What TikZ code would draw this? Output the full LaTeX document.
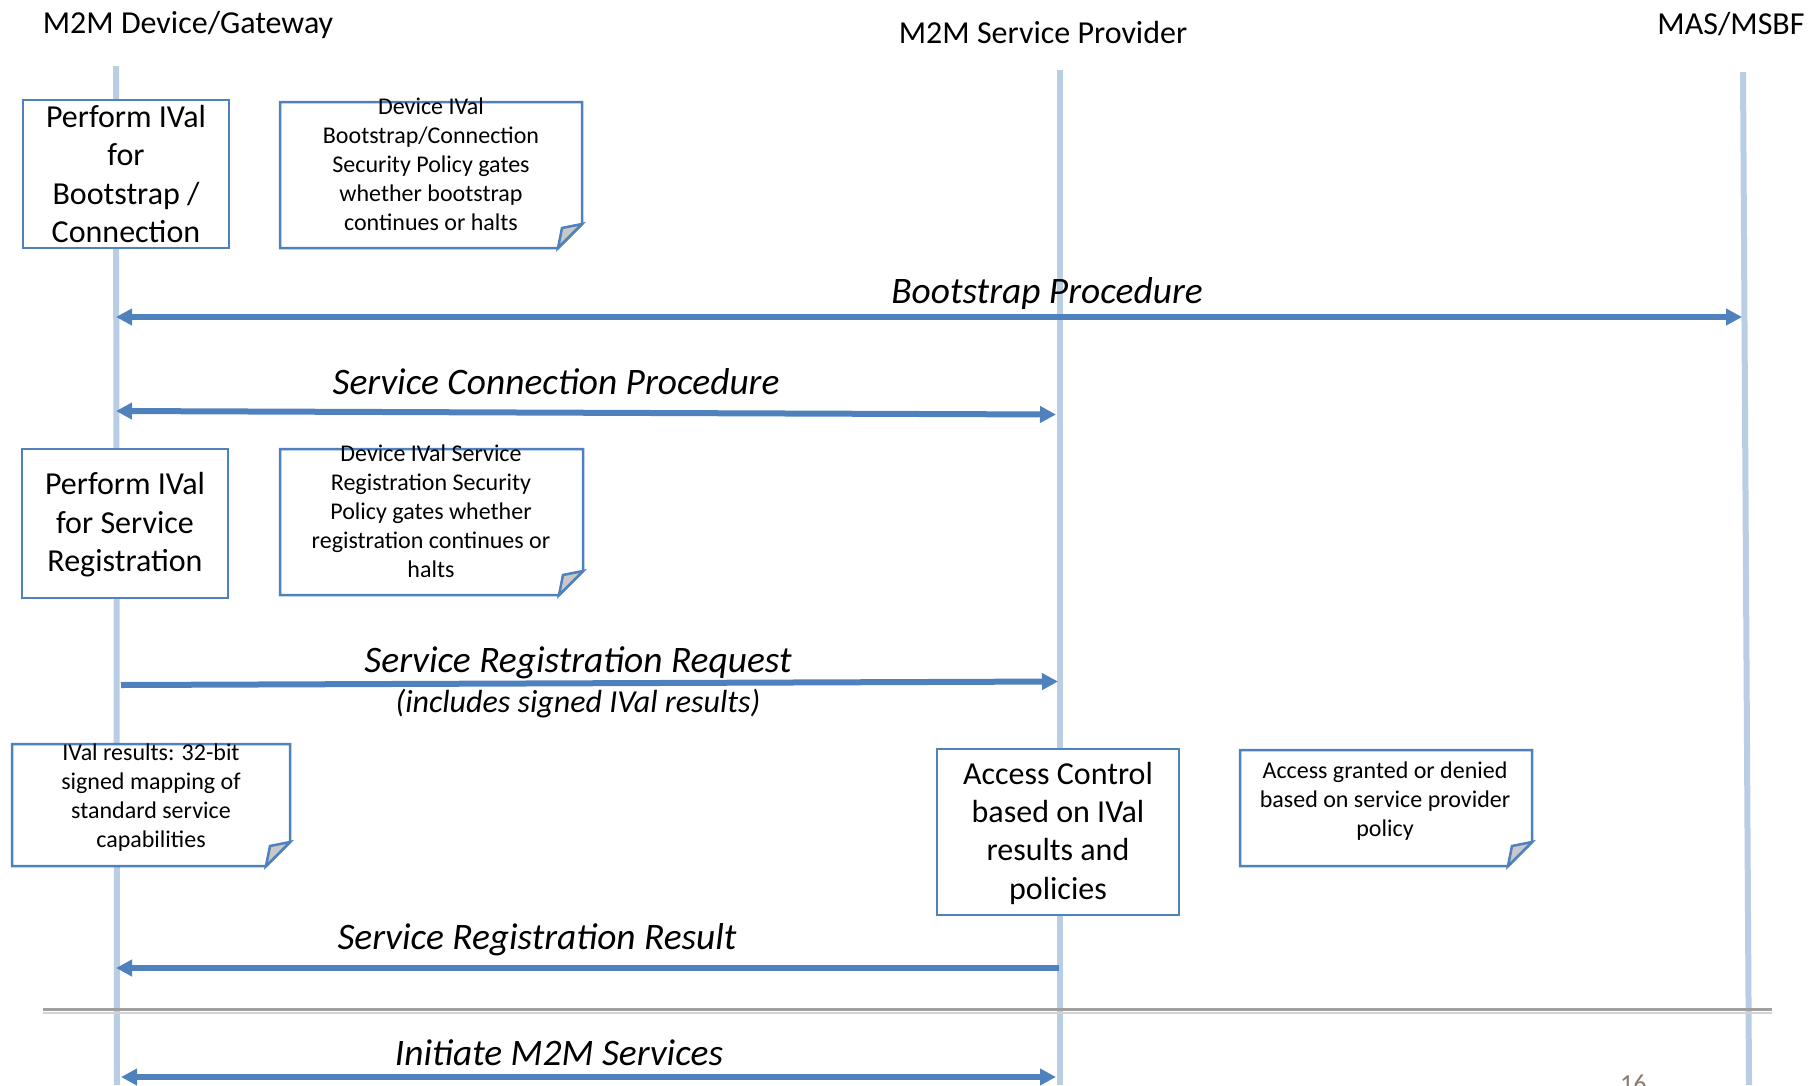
\documentclass[tikz,border=0pt]{standalone}
\usepackage{fontspec}
\setmainfont{Carlito}
\usetikzlibrary{arrows.meta}
\definecolor{lifeblue}{RGB}{185,205,229}
\definecolor{boxblue}{RGB}{79,129,189}
\definecolor{foldgray}{RGB}{200,200,200}
\definecolor{sepdark}{RGB}{160,160,160}
\definecolor{seplight}{RGB}{210,210,210}
\definecolor{pagenum}{RGB}{140,122,108}
\pgfdeclarelayer{back}
\pgfdeclarelayer{mid}
\pgfsetlayers{back,mid,main}

% dog-eared note outline: left, top, right, bottom
\newcommand{\dogearnote}[4]{%
  \draw[noteline, fill=white] (#1,#2) -- (#3,#2) -- (#3,#4-24) -- (#3-24,#4) -- (#1,#4) -- cycle;
  \draw[noteline, fill=foldgray] (#3-24,#4) -- (#3-20,#4-20) -- (#3,#4-24) -- cycle;
}

\begin{document}
\begin{tikzpicture}[x=1pt, y=-1pt,
  lifeline/.style={draw=lifeblue, line width=6pt},
  msg/.style={draw=boxblue, line width=6pt},
  procbox/.style={draw=boxblue, line width=2.5pt, fill=white, align=center,
    inner sep=0pt, font=\fontsize{32}{38.3}\selectfont},
  noteline/.style={draw=boxblue, line width=2.5pt, line join=miter},
  notetext/.style={align=center, inner sep=0pt, font=\fontsize{24}{29}\selectfont},
  title/.style={inner sep=0pt, font=\fontsize{32}{38}\selectfont},
  msglabel/.style={inner sep=0pt, font=\fontsize{37.4}{40}\selectfont\itshape},
  sublabel/.style={inner sep=0pt, font=\fontsize{32}{36}\selectfont\itshape},
]
\useasboundingbox (0,0) rectangle (1820,1085);

% participants
\node[title, anchor=base] (dev) at (188,33) {M2M Device/Gateway};
\node[title, anchor=base] (sp)  at (1043,43) {M2M Service Provider};
\node[title, anchor=base] (mas) at (1731,34) {MAS/MSBF};

% lifelines
\coordinate (devTop) at (116,66);   \coordinate (devBot) at (117,1085);
\coordinate (spTop)  at (1060,70);  \coordinate (spBot)  at (1060,1085);
\coordinate (masTop) at (1743,72);  \coordinate (masBot) at (1749,1085);
\begin{pgfonlayer}{back}
  \draw[lifeline] (devTop) -- (devBot);
  \draw[lifeline] (spTop) -- (spBot);
  \draw[lifeline] (masTop) -- (masBot);
\end{pgfonlayer}

% process boxes on the lifelines
\node[procbox, minimum width=206pt, minimum height=148pt] (ivalBoot) at (126,174)
  {Perform IVal\\for\\Bootstrap /\\Connection};
\node[procbox, minimum width=206pt, minimum height=149pt, text depth=3pt] (ivalReg) at (125,523.5)
  {Perform IVal\\for Service\\Registration};
\node[procbox, minimum width=242pt, minimum height=166pt, text depth=3pt] (access) at (1058,832)
  {Access Control\\based on IVal\\results and\\policies};

% notes
\begin{pgfonlayer}{mid}
  \dogearnote{280}{102}{582}{248}
  \dogearnote{280}{449}{583}{595}
  \dogearnote{12}{744}{290}{866}
  \dogearnote{1240}{750}{1532}{866}
\end{pgfonlayer}
\node[notetext] (noteBoot) at (431,164.5)
  {Device IVal\\Bootstrap/Connection\\Security Policy gates\\whether bootstrap\\continues or halts};
\node[notetext] (noteReg) at (431,511)
  {Device IVal Service\\Registration Security\\Policy gates whether\\registration continues or\\halts};
\node[notetext] (noteRes) at (151,798)
  {IVal results: 32-bit\\signed mapping of\\standard service\\capabilities};
\node[notetext] (noteAcc) at (1385,801)
  {Access granted or denied\\based on service provider\\policy};

% message end points
\coordinate (bootL) at (116,317);   \coordinate (bootR) at (1742,317);
\coordinate (connL) at (116,411);   \coordinate (connR) at (1056,414.5);
\coordinate (reqL)  at (121,685);   \coordinate (reqR)  at (1058,681.5);
\coordinate (resR)  at (1059,968);  \coordinate (resL)  at (116,968);
\coordinate (initL) at (121,1077);  \coordinate (initR) at (1056,1077);

% messages
\draw[msg, {Triangle[length=16pt, width=16pt]}-{Triangle[length=16pt, width=16pt]}] (bootL) -- (bootR);
\draw[msg, {Triangle[length=16pt, width=16pt]}-{Triangle[length=16pt, width=16pt]}] (connL) -- (connR);
\draw[msg, -{Triangle[length=16pt, width=16pt]}] (reqL) -- (reqR);
\draw[msg, -{Triangle[length=16pt, width=16pt]}] (resR) -- (resL);
\draw[msg, {Triangle[length=16pt, width=16pt]}-{Triangle[length=16pt, width=16pt]}] (initL) -- (initR);

% message labels
\node[msglabel] (lblBoot) at (1047,293.5) {Bootstrap Procedure};
\node[msglabel] (lblConn) at (556,382) {Service Connection Procedure};
\node[msglabel] (lblReq)  at (578,662.5) {Service Registration Request};
\node[sublabel] (lblReq2) at (578,704) {(includes signed IVal results)};
\node[msglabel] (lblRes)  at (537,940) {Service Registration Result};
\node[msglabel] (lblInit) at (559,1053) {Initiate M2M Services};

% section separator
\draw[draw=sepdark, line width=3pt] (43,1009.5) -- (1772,1009.5);
\draw[draw=seplight, line width=2pt] (43,1013) -- (1772,1013);

% slide number
\node[anchor=base west, inner sep=0pt, text=pagenum, font=\fontsize{26}{30}\selectfont] (pg) at (1620,1092) {16};
\end{tikzpicture}
\end{document}
